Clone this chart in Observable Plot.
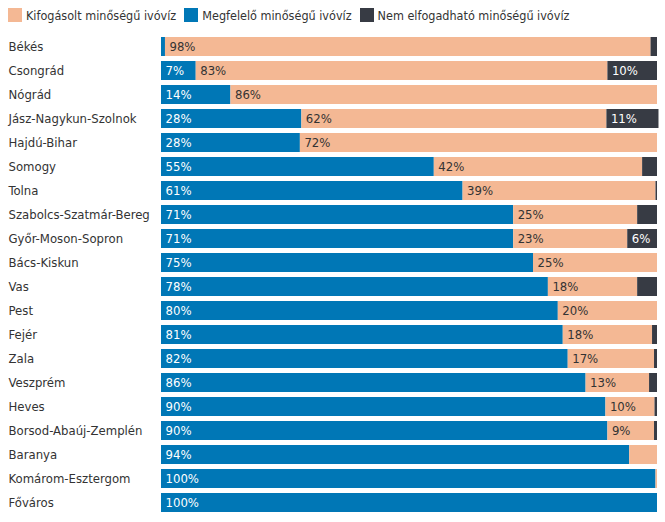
<!DOCTYPE html>
<html><head><meta charset="utf-8">
<script src="https://cdn.jsdelivr.net/npm/d3@7"></script>
<script src="https://cdn.jsdelivr.net/npm/@observablehq/plot@0.6"></script>
<style>
body{margin:0;background:#fff;font-family:"DejaVu Sans Condensed","DejaVu Sans",sans-serif;}
#legend{height:30px;display:flex;align-items:center;padding-left:8px;font-size:12.5px;color:#333;}
#legend span.item{display:flex;align-items:center;margin-right:8px;}
#legend span.sw{width:14px;height:14px;display:inline-block;margin-right:4px;}
</style></head>
<body>
<div id="legend"></div>
<div id="chart"></div>
<script>
const counties = ["Békés","Csongrád","Nógrád","Jász-Nagykun-Szolnok","Hajdú-Bihar","Somogy","Tolna","Szabolcs-Szatmár-Bereg","Győr-Moson-Sopron","Bács-Kiskun","Vas","Pest","Fejér","Zala","Veszprém","Heves","Borsod-Abaúj-Zemplén","Baranya","Komárom-Esztergom","Főváros"];
const megfelelo     = [0.8, 7, 14, 28.3, 28, 55, 60.8, 71, 71, 75, 78, 80, 81, 82, 85.6, 89.6, 90, 94.4, 99.7, 100];
const kifogasolt    = [97.9, 83, 86, 61.5, 72, 42, 38.9, 25, 23, 25, 18, 20, 18, 17.4, 12.8, 9.9, 9.4, 5.6, 0.3, 0];
const nemElfogadhato= [1.3, 10, 0, 10.5, 0, 3, 0.3, 4, 6, 0, 4, 0, 1, 0.6, 1.6, 0.5, 0.6, 0, 0, 0];
const seriesNames = ["Megfelelő minőségű ivóvíz","Kifogásolt minőségű ivóvíz","Nem elfogadható minőségű ivóvíz"];
const legendOrder = ["Kifogásolt minőségű ivóvíz","Megfelelő minőségű ivóvíz","Nem elfogadható minőségű ivóvíz"];
const colors = {"Megfelelő minőségű ivóvíz":"#0077b6","Kifogásolt minőségű ivóvíz":"#f4b894","Nem elfogadható minőségű ivóvíz":"#373b44"};
const textColors = {"Megfelelő minőségű ivóvíz":"#fff","Kifogásolt minőségű ivóvíz":"#333","Nem elfogadható minőségű ivóvíz":"#fff"};

const rows = [];
counties.forEach((c,i)=>{
  [megfelelo[i],kifogasolt[i],nemElfogadhato[i]].forEach((v,j)=>rows.push({county:c,type:seriesNames[j],value:v}));
});

const leg = document.getElementById("legend");
legendOrder.forEach(n=>{
  const s=document.createElement("span");s.className="item";
  s.innerHTML=`<span class="sw" style="background:${colors[n]}"></span>${n}`;
  leg.appendChild(s);
});

const chart = Plot.plot({
  width:665, height:492,
  marginLeft:161, marginRight:8, marginTop:2, marginBottom:5,
  style:{fontFamily:"DejaVu Sans Condensed, DejaVu Sans, sans-serif", fontSize:"13px"},
  x:{domain:[0,100], axis:null},
  y:{domain:counties, padding:0.2, axis:null},
  color:{domain:seriesNames, range:seriesNames.map(n=>colors[n])},
  marks:[
    Plot.barX(rows, Plot.stackX({x:"value", y:"county", fill:"type", order:null})),
    Plot.text(rows, Plot.stackX1({x:"value", y:"county", z:"type", order:null,
      text:d=>d.value>=6?Math.round(d.value)+"%":"",
      textAnchor:"start", dx:4, fill:d=>textColors[d.type]})),
    Plot.text(counties, {y:d=>d, text:d=>d, frameAnchor:"left", textAnchor:"start", dx:-153, fill:"#333"})
  ]
});
document.getElementById("chart").appendChild(chart);
</script>
</body></html>
